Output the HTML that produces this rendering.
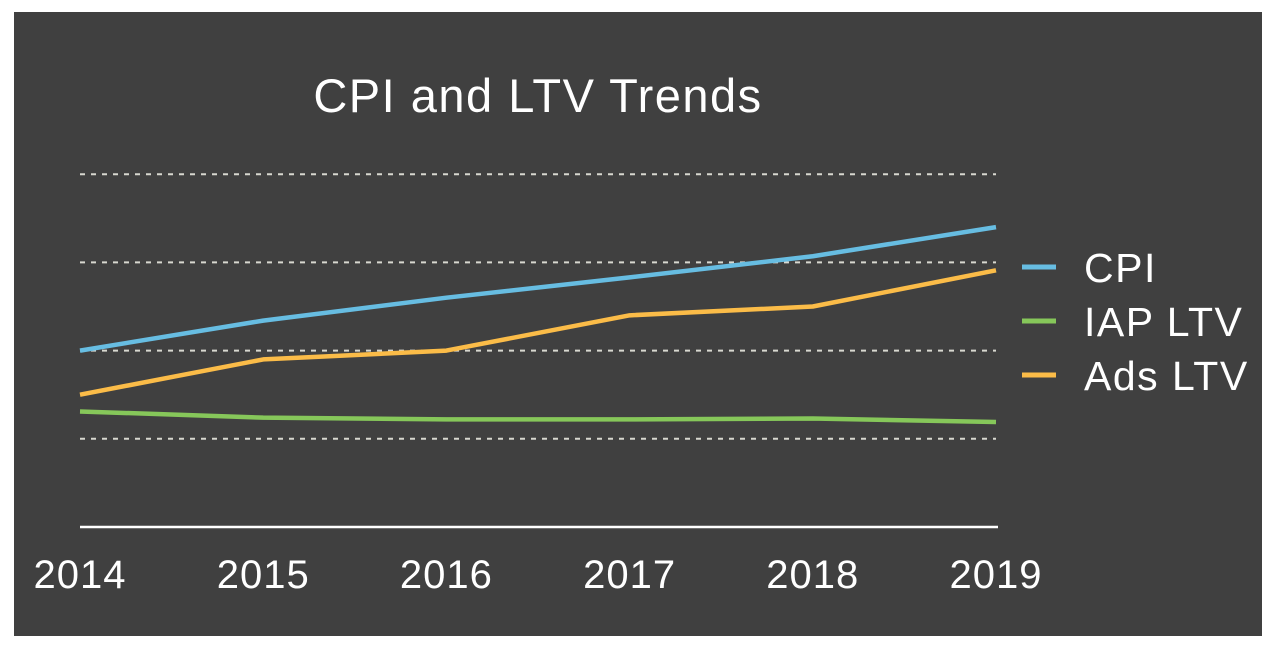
<!DOCTYPE html>
<html><head><meta charset="utf-8"><style>
html,body{margin:0;padding:0;background:#fff;}
svg{display:block;font-family:"Liberation Sans",sans-serif;}
</style></head><body>
<svg width="1276" height="648" viewBox="0 0 1276 648">
<rect x="14" y="12" width="1248" height="624" fill="#404040"/>
<text x="538" y="112" text-anchor="middle" fill="#fff" font-size="47" letter-spacing="1.5">CPI and LTV Trends</text>
<g id="grid"></g>
<g id="xlabels"></g>
<g id="series"></g>
<g id="legend"></g>
</svg>
<script>
const years = ["2014","2015","2016","2017","2018","2019"];
const cpi = [2.0, 2.34, 2.6, 2.83, 3.07, 3.4];
const iapLtv = [1.31, 1.24, 1.22, 1.22, 1.23, 1.19];
const adsLtv = [1.5, 1.9, 2.0, 2.4, 2.5, 2.91];
const gridTicks = [1, 2, 3, 4];
const seriesNames = ["CPI", "IAP LTV", "Ads LTV"];
const seriesColors = ["#67bde2", "#86c75a", "#fbbc48"];

const NS = "http://www.w3.org/2000/svg";
const x0 = 80, x1 = 996, yBase = 527, unit = 88.2;
const xs = i => x0 + i * (x1 - x0) / (years.length - 1);
const ys = v => yBase - v * unit;

const grid = document.getElementById("grid");
gridTicks.forEach(t => {
  const l = document.createElementNS(NS, "line");
  
  
  l.setAttribute("x1", x0); l.setAttribute("x2", x1);
  l.setAttribute("y1", ys(t)); l.setAttribute("y2", ys(t));
  l.setAttribute("stroke", "#d8d8d0"); l.setAttribute("stroke-width", "2");
  l.setAttribute("stroke-dasharray", "5 6");
  grid.appendChild(l);
});
const base = document.createElementNS(NS, "line");


base.setAttribute("x1", x0); base.setAttribute("x2", x1 + 2);
base.setAttribute("y1", yBase); base.setAttribute("y2", yBase);
base.setAttribute("stroke", "#fff"); base.setAttribute("stroke-width", "2.5");
grid.appendChild(base);

const xl = document.getElementById("xlabels");
years.forEach((y, i) => {
  const t = document.createElementNS(NS, "text");
  
  
  t.setAttribute("x", xs(i)); t.setAttribute("y", 588);
  t.setAttribute("text-anchor", "middle"); t.setAttribute("fill", "#fff");
  t.setAttribute("font-size", "40"); t.setAttribute("letter-spacing", "1");
  t.textContent = y;
  xl.appendChild(t);
});

const sg = document.getElementById("series");
[[iapLtv, 1], [adsLtv, 2], [cpi, 0]].forEach(([data, k]) => {
  const p = document.createElementNS(NS, "polyline");
  
  
  p.setAttribute("points", data.map((v, i) => xs(i) + "," + ys(v)).join(" "));
  p.setAttribute("fill", "none"); p.setAttribute("stroke", seriesColors[k]);
  p.setAttribute("stroke-width", "4.5"); p.setAttribute("stroke-linejoin", "round");
  sg.appendChild(p);
});

const lg = document.getElementById("legend");
seriesNames.forEach((n, i) => {
  const y = 267 + i * 54;
  const l = document.createElementNS(NS, "line");
  
  
  l.setAttribute("x1", 1022); l.setAttribute("x2", 1056);
  l.setAttribute("y1", y); l.setAttribute("y2", y);
  l.setAttribute("stroke", seriesColors[i]); l.setAttribute("stroke-width", "5");
  lg.appendChild(l);
  const t = document.createElementNS(NS, "text");
  
  
  t.setAttribute("x", 1084); t.setAttribute("y", y + 15);
  t.setAttribute("fill", "#fff"); t.setAttribute("font-size", "41");
  t.setAttribute("letter-spacing", "1.5");
  t.textContent = n;
  lg.appendChild(t);
});
</script>
</body></html>
